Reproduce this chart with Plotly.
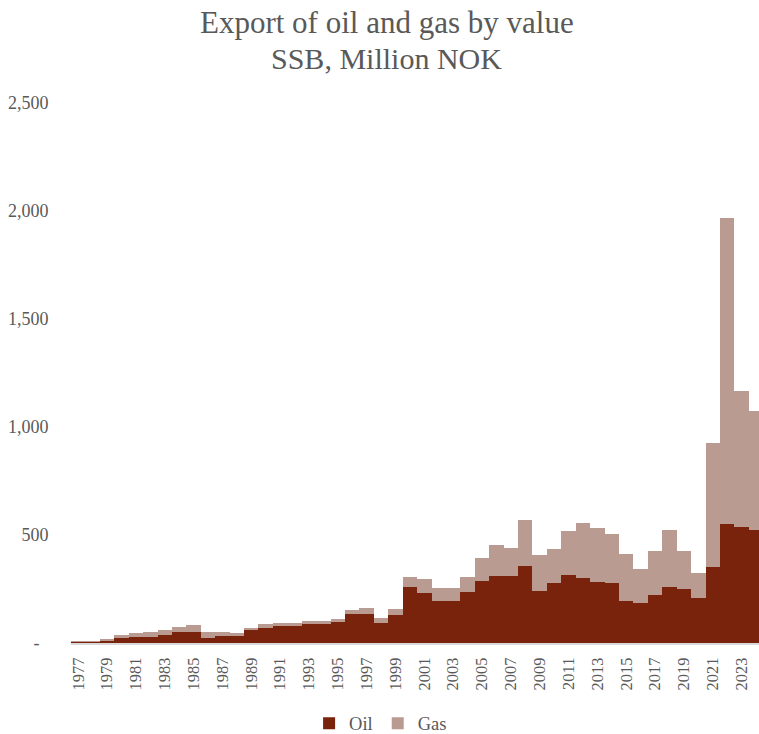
import plotly.graph_objects as go

years = list(range(1977, 2025))
oil = [8, 8, 11, 25, 29, 30, 39, 49, 52, 25, 34, 34, 59, 71, 80, 82,
       87, 91, 99, 134, 134, 91, 130, 258, 230, 194, 194, 235, 286, 309,
       309, 358, 239, 280, 316, 302, 284, 279, 193, 184, 221, 258, 249, 207,
       353, 551, 539, 523]
total = [9, 9, 18, 37, 48, 52, 60, 74, 83, 51, 51, 46, 69, 88, 94, 91,
         100, 100, 110, 153, 160, 116, 157, 304, 295, 255, 255, 307, 392, 455,
         441, 569, 409, 437, 519, 556, 531, 505, 414, 344, 424, 523, 427, 326,
         927, 1966, 1167, 1076]
gas = [t - o for t, o in zip(total, oil)]

ytick_vals = [0, 500, 1000, 1500, 2000, 2500]
ytick_text = ["-\u00a0\u00a0", "500", "1,000", "1,500", "2,000", "2,500"]
xtick_vals = list(range(1977, 2024, 2))

title_line1 = "Export of oil and gas by value"
title_line2 = "SSB, Million NOK"

OIL_C = "rgb(122,35,12)"
GAS_C = "rgb(185,155,145)"
FONT = "Palatino Linotype, Book Antiqua, Palatino, Liberation Serif, serif"
GREY = "#595959"

fig = go.Figure()
fig.add_trace(go.Bar(x=years, y=oil, name="Oil", marker=dict(color=OIL_C, line=dict(width=0))))
fig.add_trace(go.Bar(x=years, y=gas, name="Gas", marker=dict(color=GAS_C, line=dict(width=0))))

fig.update_layout(
    barmode="stack",
    bargap=0,
    width=759,
    height=734,
    margin=dict(l=71, r=0, t=103, b=91, autoexpand=False),
    paper_bgcolor="white",
    plot_bgcolor="white",
    font=dict(family=FONT, color=GREY),
    xaxis=dict(
        range=[1976.5, 2024.21],
        tickmode="array",
        tickvals=xtick_vals,
        ticktext=[str(v) for v in xtick_vals],
        tickangle=-90,
        tickfont=dict(family=FONT, size=16.5, color=GREY),
        showline=True, linecolor="#D9D9D9", linewidth=2,
        showgrid=False, zeroline=False,
        ticks="outside", ticklen=6, tickcolor="rgba(0,0,0,0)",
        automargin=False,
    ),
    yaxis=dict(
        range=[0, 2500],
        tickmode="array",
        tickvals=ytick_vals,
        ticktext=ytick_text,
        tickfont=dict(family=FONT, size=18, color=GREY),
        showgrid=False, zeroline=False, showline=False,
        ticks="outside", ticklen=18, tickcolor="rgba(0,0,0,0)",
        automargin=False,
    ),
    legend=dict(
        orientation="h",
        x=0.45, xanchor="center",
        yref="container", y=0.014, yanchor="middle",
        font=dict(family=FONT, size=18.5, color=GREY),
        traceorder="normal",
        tracegroupgap=0,
    ),
    showlegend=True,
    annotations=[
        dict(text=title_line1, xref="paper", yref="paper", x=0.459, y=1.15,
             xanchor="center", yanchor="middle", showarrow=False,
             font=dict(family=FONT, size=31, color=GREY)),
        dict(text=title_line2, xref="paper", yref="paper", x=0.459, y=1.083,
             xanchor="center", yanchor="middle", showarrow=False,
             font=dict(family=FONT, size=30, color=GREY)),
    ],
)

fig.write_html("out.html", config={"displayModeBar": False},
               post_script="document.body.style.margin='0px';")
